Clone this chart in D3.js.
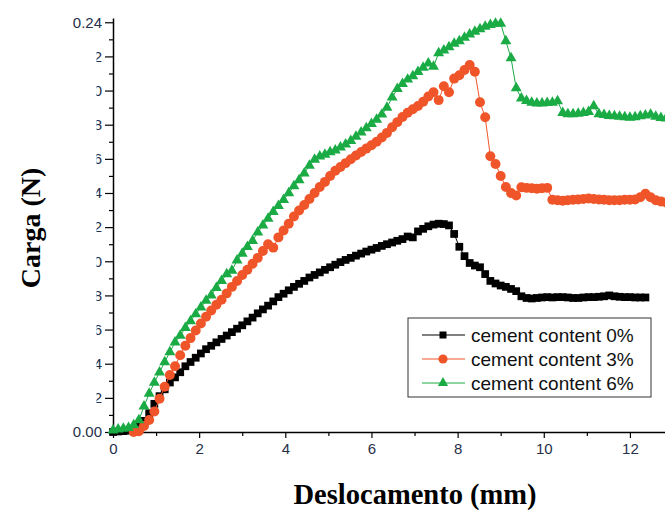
<!DOCTYPE html>
<html>
<head>
<meta charset="utf-8">
<script src="https://cdn.jsdelivr.net/npm/d3@7"></script>
<style>
  body { margin: 0; background: #fff; }
  svg { display: block; }
</style>
</head>
<body>
<div id="chart"></div>
<script>
// displacement (mm), shared by the three series
var displacement = [
  0, 0.12, 0.24, 0.36, 0.48, 0.6, 0.72, 0.84, 0.96, 1.08,
  1.2, 1.32, 1.44, 1.56, 1.68, 1.8, 1.92, 2.04, 2.16, 2.28,
  2.4, 2.52, 2.64, 2.76, 2.88, 3, 3.12, 3.24, 3.36, 3.48,
  3.6, 3.72, 3.84, 3.96, 4.08, 4.2, 4.32, 4.44, 4.56, 4.68,
  4.8, 4.92, 5.04, 5.16, 5.28, 5.4, 5.52, 5.64, 5.76, 5.88,
  6, 6.12, 6.24, 6.36, 6.48, 6.6, 6.72, 6.84, 6.96, 7.08,
  7.2, 7.32, 7.44, 7.56, 7.68, 7.8, 7.92, 8.04, 8.16, 8.28,
  8.4, 8.52, 8.64, 8.76, 8.88, 9, 9.12, 9.24, 9.36, 9.48,
  9.6, 9.72, 9.84, 9.96, 10.08, 10.2, 10.32, 10.44, 10.56, 10.68,
  10.8, 10.92, 11.04, 11.16, 11.28, 11.4, 11.52, 11.64, 11.76, 11.88,
  12, 12.12, 12.24, 12.36, 12.48, 12.6, 12.72, 12.84
];

// load (N), cement content 0%
var load0 = [
  0.0000, 0.0003, 0.0005, 0.0008, 0.0012, 0.0030, 0.0065, 0.0110, 0.0165, 0.0210,
  0.0250, 0.0290, 0.0320, 0.0350, 0.0385, 0.0410, 0.0435, 0.0460, 0.0485, 0.0505,
  0.0525, 0.0545, 0.0565, 0.0585, 0.0605, 0.0625, 0.0648, 0.0670, 0.0695, 0.0718,
  0.0740, 0.0765, 0.0790, 0.0810, 0.0830, 0.0850, 0.0868, 0.0885, 0.0905, 0.0920,
  0.0935, 0.0950, 0.0965, 0.0980, 0.0995, 0.1008, 0.1020, 0.1033, 0.1045, 0.1057,
  0.1068, 0.1078, 0.1090, 0.1100, 0.1110, 0.1120, 0.1130, 0.1145, 0.1140, 0.1175,
  0.1190, 0.1205, 0.1215, 0.1220, 0.1218, 0.1210, 0.1160, 0.1085, 0.1030, 0.0990,
  0.0975, 0.0965, 0.0925, 0.0885, 0.0870, 0.0858, 0.0850, 0.0838, 0.0825, 0.0795,
  0.0785, 0.0782, 0.0785, 0.0788, 0.0790, 0.0788, 0.0790, 0.0790, 0.0788, 0.0785,
  0.0785, 0.0788, 0.0790, 0.0790, 0.0792, 0.0795, 0.0800, 0.0795, 0.0792, 0.0790,
  0.0790, 0.0788, 0.0788, 0.0788
];

// load (N), cement content 3% (no readings before 0.48 mm)
var load3 = [
  null, null, null, null, 0.0000, 0.0005, 0.0035, 0.0070, 0.0120, 0.0195,
  0.0265, 0.0334, 0.0385, 0.0450, 0.0505, 0.0550, 0.0595, 0.0635, 0.0675, 0.0712,
  0.0745, 0.0775, 0.0812, 0.0850, 0.0885, 0.0920, 0.0950, 0.0985, 0.1020, 0.1060,
  0.1100, 0.1080, 0.1140, 0.1180, 0.1220, 0.1262, 0.1298, 0.1330, 0.1365, 0.1400,
  0.1435, 0.1465, 0.1500, 0.1530, 0.1552, 0.1575, 0.1598, 0.1620, 0.1640, 0.1660,
  0.1680, 0.1700, 0.1725, 0.1752, 0.1785, 0.1815, 0.1845, 0.1870, 0.1890, 0.1910,
  0.1935, 0.1965, 0.1990, 0.1944, 0.2025, 0.1990, 0.2070, 0.2090, 0.2120, 0.2150,
  0.2110, 0.1932, 0.1844, 0.1615, 0.1570, 0.1500, 0.1435, 0.1400, 0.1385, 0.1434,
  0.1430, 0.1428, 0.1425, 0.1428, 0.1430, 0.1360, 0.1358, 0.1355, 0.1358, 0.1360,
  0.1362, 0.1365, 0.1368, 0.1365, 0.1362, 0.1360, 0.1358, 0.1358, 0.1358, 0.1360,
  0.1360, 0.1362, 0.1375, 0.1395, 0.1375, 0.1358, 0.1350, 0.1345
];

// load (N), cement content 6%
var load6 = [
  0.0010, 0.0015, 0.0020, 0.0025, 0.0040, 0.0070, 0.0150, 0.0225, 0.0290, 0.0350,
  0.0410, 0.0468, 0.0525, 0.0565, 0.0610, 0.0650, 0.0690, 0.0730, 0.0770, 0.0800,
  0.0845, 0.0885, 0.0925, 0.0945, 0.1005, 0.1045, 0.1085, 0.1120, 0.1170, 0.1210,
  0.1250, 0.1290, 0.1325, 0.1360, 0.1400, 0.1440, 0.1476, 0.1515, 0.1560, 0.1595,
  0.1615, 0.1625, 0.1640, 0.1650, 0.1668, 0.1685, 0.1705, 0.1730, 0.1755, 0.1780,
  0.1805, 0.1830, 0.1860, 0.1900, 0.1960, 0.2010, 0.2040, 0.2065, 0.2085, 0.2110,
  0.2135, 0.2160, 0.2140, 0.2220, 0.2235, 0.2255, 0.2275, 0.2290, 0.2310, 0.2330,
  0.2345, 0.2360, 0.2375, 0.2385, 0.2392, 0.2393, 0.2290, 0.2190, 0.2014, 0.1955,
  0.1940, 0.1930, 0.1925, 0.1925, 0.1928, 0.1930, 0.1939, 0.1870, 0.1862, 0.1862,
  0.1865, 0.1870, 0.1875, 0.1909, 0.1862, 0.1858, 0.1852, 0.1850, 0.1848, 0.1845,
  0.1842, 0.1845, 0.1850, 0.1855, 0.1860, 0.1848, 0.1840, 0.1838
];

var seriesNames = ["cement content 0%", "cement content 3%", "cement content 6%"];
var xTicks = [0, 2, 4, 6, 8, 10, 12];
var xMinorTicks = [1, 3, 5, 7, 9, 11, 13];
var yTicks = [0, 0.02, 0.04, 0.06, 0.08, 0.10, 0.12, 0.14, 0.16, 0.18, 0.20, 0.22, 0.24];
var yMinorTicks = [0.01, 0.03, 0.05, 0.07, 0.09, 0.11, 0.13, 0.15, 0.17, 0.19, 0.21, 0.23];

var svgWidth = 665;
var svgHeight = 510;

var margin = { top: 18, right: 0, bottom: 78, left: 113 };
var width = 560;
var height = svgHeight - margin.top - margin.bottom;

var svg = d3.select("#chart")
  .append("svg")
  .attr("width", svgWidth)
  .attr("height", svgHeight);

var chartGroup = svg.append("g")
  .attr("transform", "translate(" + margin.left + "," + margin.top + ")");

var xScale = d3.scaleLinear().domain([0, 13]).range([0, width]);
var yScale = d3.scaleLinear().domain([0, 0.2425]).range([height, 0]);

// axes
var bottomAxis = d3.axisBottom(xScale)
  .tickValues(xTicks)
  .tickSize(6)
  .tickSizeOuter(0)
  .tickPadding(5)
  .tickFormat(d3.format("d"));

var leftAxis = d3.axisLeft(yScale)
  .tickValues(yTicks)
  .tickSize(8)
  .tickSizeOuter(0)
  .tickPadding(3)
  .tickFormat(d3.format(".2f"));

var xAxis = chartGroup.append("g")
  .attr("transform", `translate(0, ${height})`)
  .call(bottomAxis);

chartGroup.append("g")
  .attr("transform", `translate(0, ${height})`)
  .call(d3.axisBottom(xScale).tickValues(xMinorTicks).tickSize(4).tickSizeOuter(0).tickFormat(""))
  .select(".domain").remove();

var yAxis = chartGroup.append("g")
  .call(leftAxis);

chartGroup.append("g")
  .call(d3.axisLeft(yScale).tickValues(yMinorTicks).tickSize(4).tickSizeOuter(0).tickFormat(""))
  .select(".domain").remove();

chartGroup.selectAll(".tick line").attr("stroke", "#000").attr("stroke-width", 1.2);
chartGroup.selectAll(".domain").attr("stroke", "#000").attr("stroke-width", 1.5);
chartGroup.selectAll(".tick text")
  .attr("fill", "#26304a")
  .style("font-family", "'Liberation Sans', Arial, sans-serif")
  .style("font-size", "15px");

// the middle tick labels are cut off in the source figure
svg.append("rect")
  .attr("x", 46)
  .attr("y", 40)
  .attr("width", 50.5)
  .attr("height", 375)
  .attr("fill", "#fff");

// series
var colors = ["#000000", "#f0552a", "#1aab45"];
var loads = [load0, load3, load6];

var series = loads.map(function (arr, i) {
  return {
    name: seriesNames[i],
    color: colors[i],
    values: arr.map(function (v, j) { return { x: displacement[j], y: v }; })
      .filter(function (d) { return d.y !== null && d.y !== undefined; })
  };
});

var line = d3.line()
  .x(d => xScale(d.x))
  .y(d => yScale(d.y));

var symbols = [
  d3.symbol().type(d3.symbolSquare).size(60),
  d3.symbol().type(d3.symbolCircle).size(78),
  d3.symbol().type(d3.symbolTriangle).size(52)
];

series.forEach(function (s, i) {
  var g = chartGroup.append("g");

  g.append("path")
    .datum(s.values)
    .attr("fill", "none")
    .attr("stroke", s.color)
    .attr("stroke-width", 1)
    .attr("d", line);

  g.selectAll("path.marker")
    .data(s.values)
    .enter()
    .append("path")
    .attr("class", "marker")
    .attr("transform", d => `translate(${xScale(d.x)}, ${yScale(d.y)})`)
    .attr("d", symbols[i])
    .attr("fill", s.color);
});

// legend
var legend = svg.append("g")
  .attr("transform", "translate(408, 318)");

legend.append("rect")
  .attr("width", 243)
  .attr("height", 79)
  .attr("fill", "#fff")
  .attr("stroke", "#333")
  .attr("stroke-width", 1);

var legendSymbols = [
  d3.symbol().type(d3.symbolSquare).size(49),
  d3.symbol().type(d3.symbolCircle).size(66),
  d3.symbol().type(d3.symbolTriangle).size(45)
];

series.forEach(function (s, i) {
  var row = legend.append("g")
    .attr("transform", `translate(0, ${17 + i * 24})`);

  row.append("line")
    .attr("x1", 14)
    .attr("x2", 57)
    .attr("stroke", s.color)
    .attr("stroke-width", 1);

  row.append("path")
    .attr("transform", "translate(35, 0)")
    .attr("d", legendSymbols[i])
    .attr("fill", s.color);

  row.append("text")
    .attr("x", 63)
    .attr("y", 0)
    .attr("dy", "0.35em")
    .style("font-family", "'Liberation Sans', Arial, sans-serif")
    .style("font-size", "19px")
    .attr("fill", "#111")
    .text(s.name);
});

// axis titles
svg.append("text")
  .attr("transform", "translate(40, 228) rotate(-90)")
  .attr("text-anchor", "middle")
  .style("font-family", "'Liberation Serif', 'Times New Roman', serif")
  .style("font-weight", "bold")
  .style("font-size", "28px")
  .text("Carga (N)");

svg.append("text")
  .attr("x", 415)
  .attr("y", 504)
  .attr("text-anchor", "middle")
  .style("font-family", "'Liberation Serif', 'Times New Roman', serif")
  .style("font-weight", "bold")
  .style("font-size", "28.5px")
  .text("Deslocamento (mm)");
</script>
</body>
</html>
